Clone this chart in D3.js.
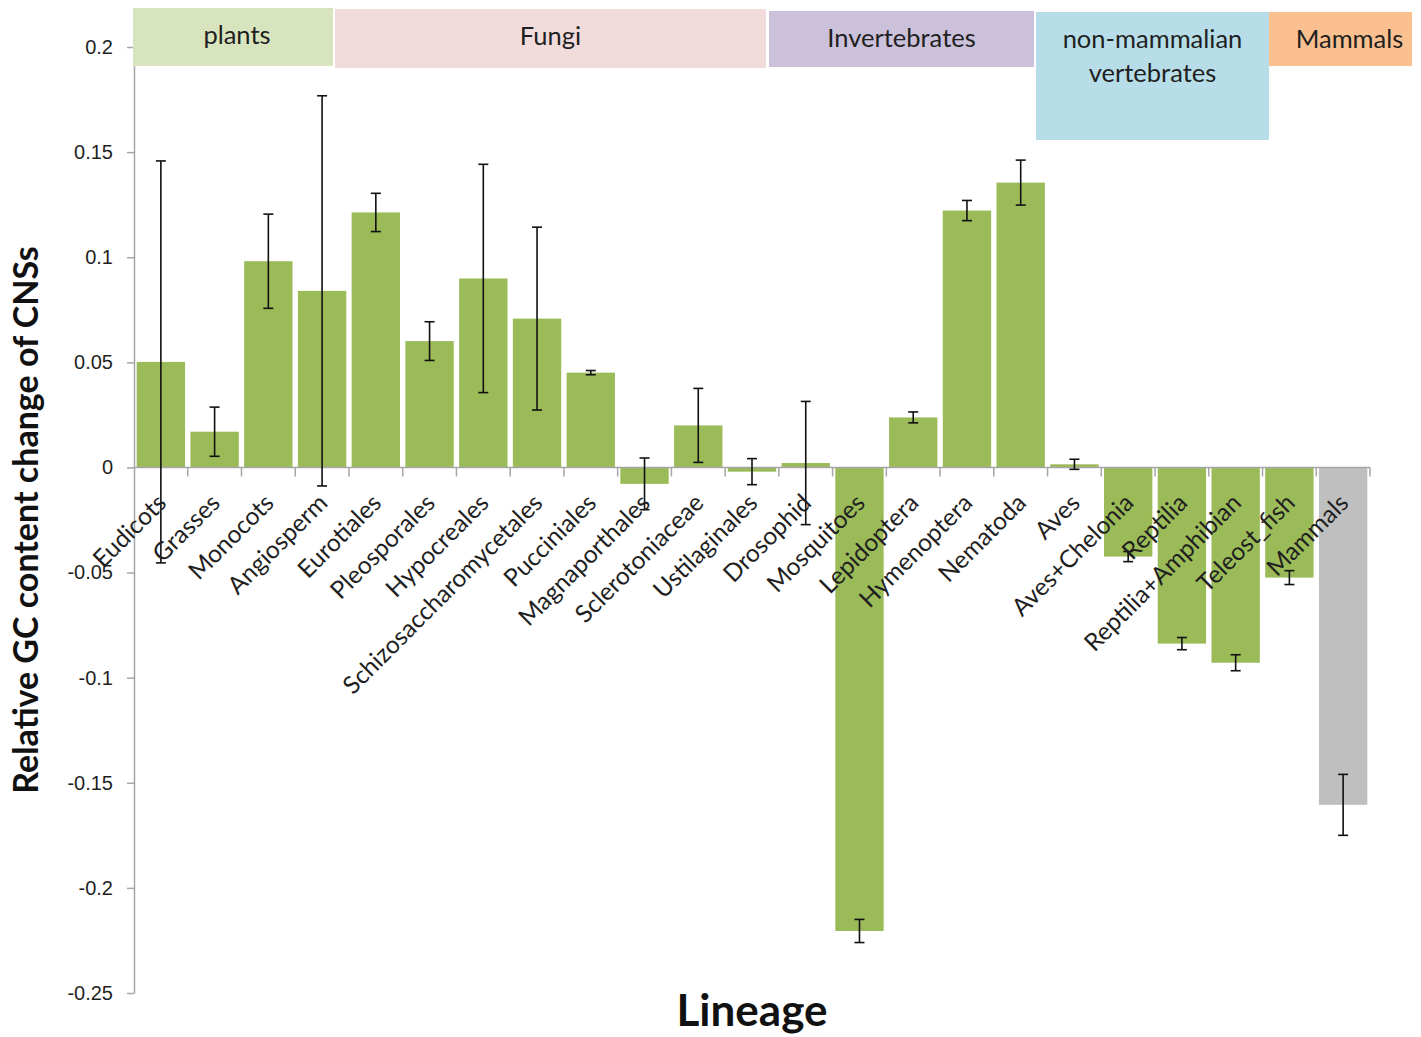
<!DOCTYPE html>
<html lang="en">
<head>
    <meta charset="UTF-8">
    <title>Relative GC content change of CNSs by lineage</title>
    <script src="https://d3js.org/d3.v7.min.js"></script>
    <style>
        body { margin: 0; background: #fff; }
        svg { font-family: Lato, "DejaVu Sans", sans-serif; }
        .tick text { fill: #1f1f1f; font-size: 20px; }
        .cat { font-size: 24.5px; fill: #1f1f1f; }
        .grp { font-size: 25.5px; fill: #1f1f1f; }
    </style>
</head>
<body>
    <script>
        // Data
        const categories = ["Eudicots", "Grasses", "Monocots", "Angiosperm", "Eurotiales", "Pleosporales",
            "Hypocreales", "Schizosaccharomycetales", "Pucciniales", "Magnaporthales", "Sclerotoniaceae",
            "Ustilaginales", "Drosophid", "Mosquitoes", "Lepidoptera", "Hymenoptera", "Nematoda", "Aves",
            "Aves+Chelonia", "Reptilia", "Reptilia+Amphibian", "Teleost_fish", "Mammals"];
        const values = [0.0502, 0.0170, 0.0981, 0.0840, 0.1213, 0.0601, 0.0899, 0.0708, 0.0451, -0.0078,
            0.0200, -0.0020, 0.0021, -0.2205, 0.0238, 0.1222, 0.1355, 0.0015, -0.0424, -0.0838, -0.0929,
            -0.0524, -0.1605];
        const errors = [0.0956, 0.0117, 0.0224, 0.0928, 0.0091, 0.0092, 0.0543, 0.0435, 0.0010, 0.0123,
            0.0176, 0.0062, 0.0293, 0.0055, 0.0026, 0.0048, 0.0107, 0.0024, 0.0024, 0.0029, 0.0038,
            0.0033, 0.0145];
        const highlighted = ["Mammals"];  // drawn in grey

        const yTicks = [0.2, 0.15, 0.1, 0.05, 0, -0.05, -0.1, -0.15, -0.2, -0.25];
        const yTickLabels = ["0.2", "0.15", "0.1", "0.05", "0", "-0.05", "-0.1", "-0.15", "-0.2", "-0.25"];

        const groups = ["plants", "Fungi", "Invertebrates", "non-mammalian vertebrates", "Mammals"];
        const groupColors = ["#d7e4bd", "#f2dcdb", "#ccc1da", "#b7dee8", "#fac090"];
        // header boxes: [x0, x1, y0, y1, text x shift] in px
        const groupBoxes = [[133, 333, 8, 66, 4], [335, 766, 9, 68, 0], [769, 1034, 11, 67, 0],
            [1036, 1269, 12, 140, 0], [1269, 1412, 12, 66, 9]];

        const width = 1421, height = 1037;
        const svg = d3.select("body")
            .append("svg")
            .attr("width", width)
            .attr("height", height);

        const x = d3.scaleBand()
            .domain(categories)
            .range([134, 1370])
            .paddingInner(0.1)
            .paddingOuter(0.05);

        const y = d3.scaleLinear()
            .domain([-0.25, 0.2])
            .range([993, 47]);

        // y axis
        const yAxis = svg.append("g")
            .attr("transform", "translate(134,0)")
            .call(d3.axisLeft(y)
                .tickValues(yTicks)
                .tickFormat((d, i) => yTickLabels[i])
                .tickSize(7)
                .tickSizeOuter(0)
                .tickPadding(14));
        yAxis.selectAll("path, line").attr("stroke", "#a6a6a6").attr("stroke-width", 1.5);

        // bars
        svg.append("g")
            .selectAll("rect")
            .data(categories)
            .join("rect")
            .attr("x", d => x(d))
            .attr("width", x.bandwidth())
            .attr("y", (d, i) => y(Math.max(0, values[i])))
            .attr("height", (d, i) => Math.abs(y(values[i]) - y(0)))
            .attr("fill", d => highlighted.includes(d) ? "#bfbfbf" : "#9bbb59");

        // x axis line and ticks at category boundaries
        const step = x.step();
        const x0 = x.range()[0];
        svg.append("line")
            .attr("x1", x0).attr("x2", x.range()[1])
            .attr("y1", y(0)).attr("y2", y(0))
            .attr("stroke", "#a6a6a6").attr("stroke-width", 1.5);
        svg.append("g")
            .selectAll("line")
            .data(d3.range(1, categories.length + 1))
            .join("line")
            .attr("x1", i => x0 + i * step).attr("x2", i => x0 + i * step)
            .attr("y1", y(0)).attr("y2", y(0) + 9)
            .attr("stroke", "#a6a6a6").attr("stroke-width", 1.5);

        // error bars
        const eb = svg.append("g")
            .attr("stroke", "#111")
            .attr("stroke-width", 1.6)
            .selectAll("g")
            .data(categories)
            .join("g")
            .attr("transform", d => `translate(${x(d) + x.bandwidth() / 2},0)`);
        eb.append("line")
            .attr("y1", (d, i) => y(values[i] + errors[i]))
            .attr("y2", (d, i) => y(values[i] - errors[i]));
        eb.append("line")
            .attr("x1", -5).attr("x2", 5)
            .attr("y1", (d, i) => y(values[i] + errors[i]))
            .attr("y2", (d, i) => y(values[i] + errors[i]));
        eb.append("line")
            .attr("x1", -5).attr("x2", 5)
            .attr("y1", (d, i) => y(values[i] - errors[i]))
            .attr("y2", (d, i) => y(values[i] - errors[i]));

        // category labels, rotated
        svg.append("g")
            .selectAll("text")
            .data(categories)
            .join("text")
            .attr("class", "cat")
            .attr("text-anchor", "end")
            .attr("transform", d => `translate(${x(d) + x.bandwidth() / 2 + 7},${y(0) + 37}) rotate(-45)`)
            .text(d => d);

        // group header boxes
        const hdr = svg.append("g")
            .selectAll("g")
            .data(groups)
            .join("g");
        hdr.append("rect")
            .attr("x", (d, i) => groupBoxes[i][0])
            .attr("y", (d, i) => groupBoxes[i][2])
            .attr("width", (d, i) => groupBoxes[i][1] - groupBoxes[i][0])
            .attr("height", (d, i) => groupBoxes[i][3] - groupBoxes[i][2])
            .attr("fill", (d, i) => groupColors[i]);
        hdr.append("text")
            .attr("class", "grp")
            .attr("text-anchor", "middle")
            .attr("x", (d, i) => (groupBoxes[i][0] + groupBoxes[i][1]) / 2 + groupBoxes[i][4])
            .attr("y", (d, i) => groupBoxes[i][2] + 36)
            .each(function(d) {
                const words = d === "non-mammalian vertebrates" ? ["non-mammalian", "vertebrates"] : [d];
                d3.select(this).selectAll("tspan")
                    .data(words)
                    .join("tspan")
                    .attr("x", d3.select(this).attr("x"))
                    .attr("dy", (w, j) => j === 0 ? 0 : 34)
                    .text(w => w);
            });

        // axis titles
        svg.append("text")
            .attr("transform", "translate(38,520) rotate(-90)")
            .attr("text-anchor", "middle")
            .attr("font-size", 34)
            .attr("font-weight", "bold")
            .attr("fill", "#111")
            .text("Relative GC content change of CNSs");

        svg.append("text")
            .attr("x", 752)
            .attr("y", 1026)
            .attr("text-anchor", "middle")
            .attr("font-size", 44)
            .attr("font-weight", "bold")
            .attr("fill", "#111")
            .text("Lineage");
    </script>
</body>
</html>
